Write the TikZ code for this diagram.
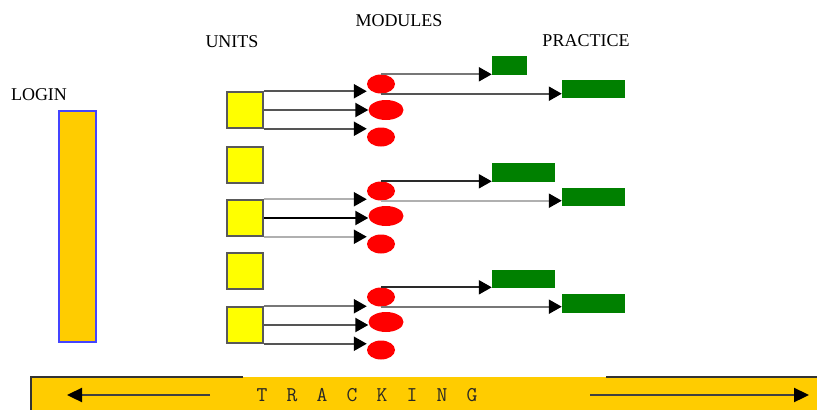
\documentclass[tikz,border=0pt]{standalone}
\usepackage{fontspec}
\setmainfont{Liberation Serif}
\usetikzlibrary{shapes.geometric,arrows.meta}
\definecolor{loginfill}{HTML}{FFCC00}
\definecolor{loginedge}{HTML}{4444FF}
\definecolor{unitfill}{HTML}{FFFF00}
\definecolor{practfill}{HTML}{008000}
\definecolor{linedark}{HTML}{555555}
\definecolor{linemid}{HTML}{777777}
\definecolor{linedeep}{HTML}{2A2A2A}
\definecolor{linelight}{HTML}{B0B0B0}
\newcommand\trk[1]{\makebox[30pt]{#1}}
\begin{document}
\begin{tikzpicture}[x=1pt,y=-1pt,
  headtext/.style={font=\fontsize{18}{18}\selectfont, inner sep=0pt},
  unitbox/.style={draw=black!65, fill=unitfill, line width=1.5pt,
    minimum width=36pt, minimum height=36pt, inner sep=0pt},
  modell/.style={ellipse, fill=red, minimum width=28pt, minimum height=19pt, inner sep=0pt},
  modwide/.style={modell, minimum width=35pt, minimum height=20pt},
  practbox/.style={fill=practfill, inner sep=0pt, minimum width=63pt, minimum height=19pt},
  link/.style={line width=2.2pt, -{Triangle[length=13pt,width=14pt,color=black]}, draw=linedark},
  trackarrow/.style={line width=2.3pt, draw=black!75, -{Triangle[length=15pt,width=14pt,color=black]}},
]
\useasboundingbox (0,0) rectangle (817,410);

% headings
\node[headtext] (hlogin) at (39,95) {LOGIN};
\node[headtext] (hunits) at (232,42) {UNITS};
\node[headtext] (hmodules) at (399,21) {MODULES};
\node[headtext] (hpractice) at (586,41) {PRACTICE};

% login column
\node[draw=loginedge, fill=loginfill, line width=2pt, minimum width=37pt,
  minimum height=231pt, inner sep=0pt] (loginbar) at (77.5,226.5) {};

% units
\node[unitbox] (u1) at (245,110) {};
\node[unitbox] (u2) at (245,165) {};
\node[unitbox] (u3) at (245,218) {};
\node[unitbox] (u4) at (245,271) {};
\node[unitbox] (u5) at (245,325) {};

% modules
\node[modell]  (m11) at (381,84) {};
\node[modwide] (m12) at (386,110) {};
\node[modell]  (m13) at (381,137) {};
\node[modell]  (m21) at (381,191) {};
\node[modwide] (m22) at (386,216) {};
\node[modell]  (m23) at (381,244) {};
\node[modell]  (m31) at (381,297) {};
\node[modwide] (m32) at (386,322) {};
\node[modell]  (m33) at (381,350) {};

% practice
\node[practbox, minimum width=35pt] (p11) at (509.5,65.5) {};
\node[practbox, minimum height=18pt] (p12) at (593.5,89) {};
\node[practbox] (p21) at (523.5,172.5) {};
\node[practbox, minimum height=18pt] (p22) at (593.5,197) {};
\node[practbox, minimum height=18pt] (p31) at (523.5,279) {};
\node[practbox] (p32) at (593.5,303.5) {};

% unit -> module links
\draw[link] (u1.north east) -- (u1.north east -| m11.west);
\draw[link] (u1.east) -- (u1.east -| m12.west);
\draw[link] (u1.south east) -- (u1.south east -| m13.west);
\draw[link, draw=linelight] (u3.north east) -- (u3.north east -| m21.west);
\draw[link, draw=black] (u3.east) -- (u3.east -| m22.west);
\draw[link, draw=linelight] (u3.south east) -- (u3.south east -| m23.west);
\draw[link, draw=linemid] (u5.north east) -- (u5.north east -| m31.west);
\draw[link] (u5.east) -- (u5.east -| m32.west);
\draw[link] (u5.south east) -- (u5.south east -| m33.west);

% module -> practice links
\draw[link, draw=linemid] (m11.north) -- (m11.north -| p11.west);
\draw[link] (m11.south) -- (m11.south -| p12.west);
\draw[link, draw=linedeep] (m21.north) -- (m21.north -| p21.west);
\draw[link, draw=linelight] (m21.south) -- (m21.south -| p22.west);
\draw[link, draw=linedeep] (m31.north) -- (m31.north -| p31.west);
\draw[link, draw=linemid] (m31.south) -- (m31.south -| p32.west);

% tracking band
\fill[loginfill] (31,377) rectangle (817,410);
\draw[line width=2pt, black!80] (243,377) -- (31,377) -- (31,410);
\draw[line width=2pt, black!80] (606,377) -- (817,377);
\node[inner sep=0pt, text=black!85, font=\ttfamily\fontsize{21}{21}\selectfont] (track) at (367,395)
  {\trk{T}\trk{R}\trk{A}\trk{C}\trk{K}\trk{I}\trk{N}\trk{G}};
\coordinate (tlfrom) at (210,395);
\coordinate (tlto) at (67,395);
\coordinate (trfrom) at (590,395);
\coordinate (trto) at (809,395);
\draw[trackarrow] (tlfrom) -- (tlto);
\draw[trackarrow] (trfrom) -- (trto);
\end{tikzpicture}
\end{document}
